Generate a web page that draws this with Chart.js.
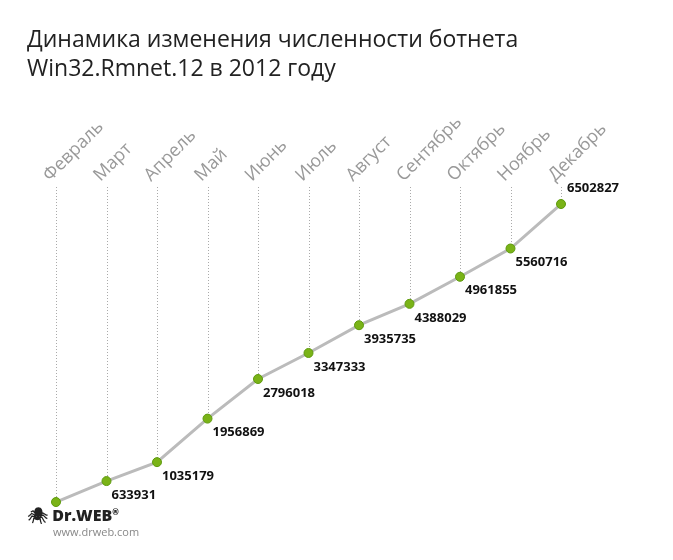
<!DOCTYPE html>
<html><head><meta charset="utf-8">
<script src="https://cdn.jsdelivr.net/npm/chart.js@4"></script>
<style>
body{margin:0;background:#fff;font-family:"Open Sans",sans-serif;}
#wrap{position:relative;width:673px;height:560px;}
#title{position:absolute;left:27px;top:24px;font-size:23px;line-height:29px;color:#222;}
#logo{position:absolute;left:28px;top:504px;font-family:"Open Sans";font-weight:800;font-size:16px;color:#222;}
#url{position:absolute;left:53px;top:524px;font-size:11px;color:#888;}
canvas{position:absolute;left:0;top:0;}
</style></head><body>
<div id="wrap">
<canvas id="c" width="673" height="560"></canvas>
<div id="title">Динамика изменения численности ботнета<br>Win32.Rmnet.12 в 2012 году</div>
<div id="logo">🕷 Dr.WEB<sup style="font-size:8px">®</sup></div>
<div id="url">www.drweb.com</div>
</div>
<script>
const months=["Февраль","Март","Апрель","Май","Июнь","Июль","Август","Сентябрь","Октябрь","Ноябрь","Декабрь"];
const values=[190000,633931,1035179,1956869,2796018,3347333,3935735,4388029,4961855,5560716,6502827];
const shown=[false,true,true,true,true,true,true,true,true,true,true];
const deco={id:'deco',
 beforeDatasetsDraw(ch){const c=ch.ctx,x=ch.scales.x;
  c.save();c.strokeStyle='#aaa';c.lineWidth=1;c.setLineDash([1,2]);
  months.forEach((m,i)=>{const px=Math.round(x.getPixelForValue(i))+0.5;c.beginPath();c.moveTo(px,187);c.lineTo(px,ch.scales.y.getPixelForValue(values[i]));c.stroke();});
  c.restore();},
 afterDraw(ch){const c=ch.ctx,x=ch.scales.x,y=ch.scales.y;c.save();
  c.font='18px "Open Sans"';c.fillStyle='#999';
  months.forEach((m,i)=>{const px=x.getPixelForValue(i);c.save();c.translate(px-6,182);c.rotate(-Math.PI/4);c.textAlign='left';c.textBaseline='alphabetic';c.fillText(m,0,0);c.restore();});
  c.font='bold 13px "Open Sans"';c.fillStyle='#111';c.textBaseline='middle';c.textAlign='left';
  values.forEach((v,i)=>{if(!shown[i])return;const px=x.getPixelForValue(i),py=y.getPixelForValue(v);
   if(i===values.length-1)c.fillText(String(v),px+6,py-16);else c.fillText(String(v),px+5,py+14);});
  c.restore();}};
new Chart(document.getElementById('c'),{type:'line',
 data:{labels:months,datasets:[{data:values,borderColor:'#bbb',borderWidth:3,pointBackgroundColor:'#7ab317',pointBorderColor:'#5e9a0e',pointBorderWidth:1,pointRadius:4.5,tension:0}]},
 options:{responsive:false,animation:false,layout:{padding:{left:56,right:112,top:190,bottom:49}},
  plugins:{legend:{display:false},tooltip:{enabled:false}},
  scales:{x:{display:false,offset:false},y:{display:false,min:0,max:6800000}}},
 plugins:[deco]});
</script></body></html>
